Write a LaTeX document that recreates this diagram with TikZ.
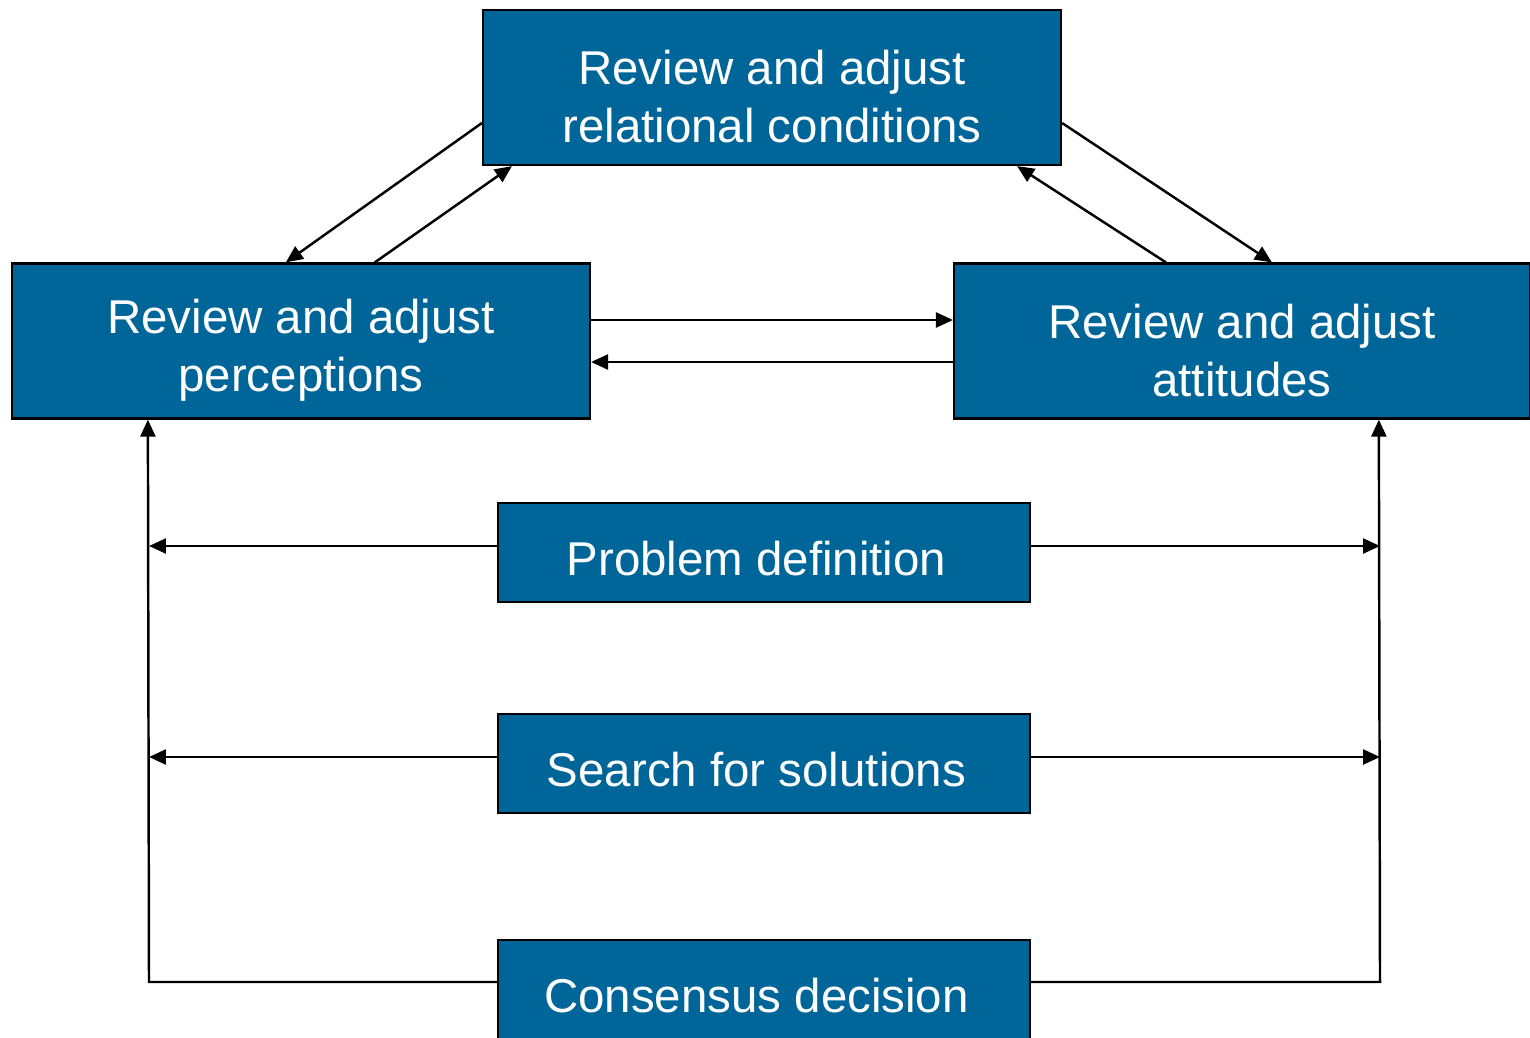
\documentclass[tikz,border=0pt]{standalone}
\usepackage{fontspec}
\setmainfont{Liberation Sans}
\usepackage{tikz}
\usetikzlibrary{
  arrows.meta,
  positioning,
  calc
}
\definecolor{rvBlue}{HTML}{006699}
\tikzset{
  rvnode/.style={
    draw=black, line width=1.3pt, fill=rvBlue, text=white, align=center,
    font=\fontsize{27}{33}\selectfont, inner sep=0pt,
    execute at begin node={\rule{0pt}{26.5pt}}
  },
  bigbox/.style={rvnode, minimum width=11.56cm, minimum height=3.1cm,
    execute at begin node={\rule{0pt}{63pt}}},
  stagebox/.style={rvnode, minimum width=10.64cm, minimum height=1.98cm},
  flow/.style={-{Triangle[length=3.4mm,width=3mm]}, line width=1.4pt},
  link/.style={line width=1.4pt}
}

\begin{document}
\begin{tikzpicture}[x=0.02cm, y=-0.02cm]
  \useasboundingbox (0,0) rectangle (1530,1037);
  \node[bigbox] (rel) at (772,87.5) {Review and adjust\\relational conditions};
  \node[bigbox] (perc) at (301,341) {Review and adjust\\perceptions};
  \node[bigbox, minimum width=11.52cm] (att) at (1242,341) {Review and adjust\\attitudes};
  \node[stagebox] (prob) at (764,552.5) {Problem definition\hspace*{0.3cm}};
  \node[stagebox] (sol) at (764,763.5) {Search for solutions\hspace*{0.3cm}};
  \node[stagebox] (cons) at (764,989.5) {Consensus decision\hspace*{0.3cm}};
  \coordinate (lc) at (149,982);
  \coordinate (rc) at (1380,982);
  % top triangle
  \draw[flow] ([yshift=-0.71cm]rel.west) -- ([xshift=5.5cm]perc.north west);
  \draw[flow] ([xshift=7.28cm]perc.north west) -- ([xshift=0.6cm]rel.south west);
  \draw[flow] ([yshift=-0.71cm]rel.east) -- ([xshift=6.38cm]att.north west);
  \draw[flow] ([xshift=4.26cm]att.north west) -- ([xshift=-0.9cm]rel.south east);
  \draw[flow] ([yshift=0.42cm]perc.east) -- ([yshift=0.42cm]att.west);
  \draw[flow] ([yshift=-0.42cm]att.west) -- ([yshift=-0.42cm]perc.east);
  % feedback from the stages
  \draw[flow] (cons.west |- lc) -- (lc) -- ([xshift=2.74cm]perc.south west);
  \draw[flow] (cons.east |- rc) -- (rc) -- ([xshift=8.52cm]att.south west);
  \draw[flow] ([yshift=0.13cm]prob.west) -- ([yshift=0.13cm]prob.west -| lc);
  \draw[flow] ([yshift=0.13cm]prob.east) -- ([yshift=0.13cm]prob.east -| rc);
  \draw[flow] ([yshift=0.13cm]sol.west) -- ([yshift=0.13cm]sol.west -| lc);
  \draw[flow] ([yshift=0.13cm]sol.east) -- ([yshift=0.13cm]sol.east -| rc);
\end{tikzpicture}
\end{document}
